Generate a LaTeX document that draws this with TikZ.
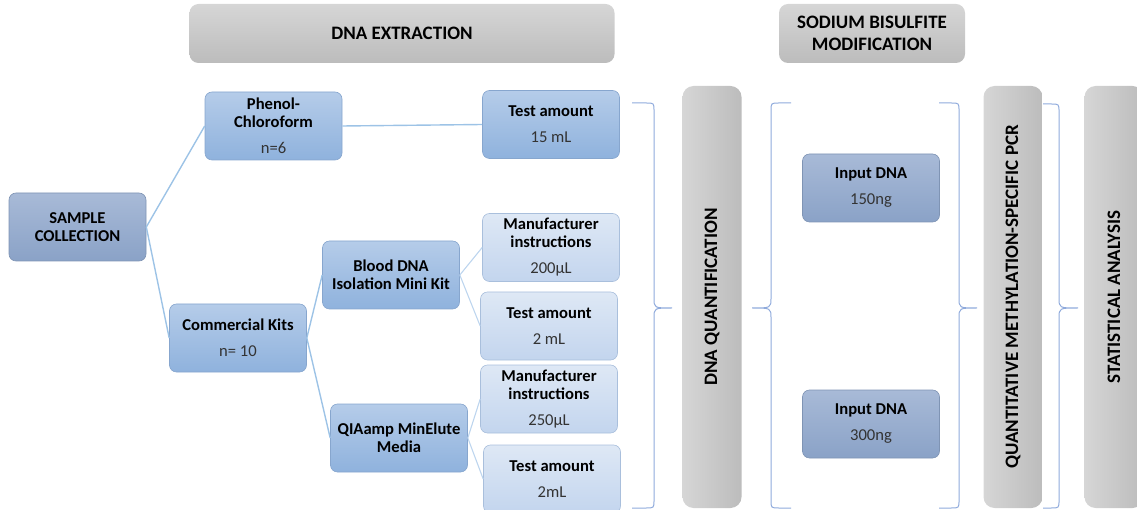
\documentclass[tikz,border=0pt]{standalone}
\usepackage{fontspec}
\setmainfont{Carlito}
\usetikzlibrary{positioning}
\usetikzlibrary{shapes}
\definecolor{darkTop}{HTML}{A8BAD7}
\definecolor{darkBottom}{HTML}{8AA2C7}
\definecolor{darkEdge}{HTML}{7F94B4}
\definecolor{midTop}{HTML}{B5CCE9}
\definecolor{midBottom}{HTML}{8FB2DD}
\definecolor{midEdge}{HTML}{87A6CE}
\definecolor{lightTop}{HTML}{DEE8F5}
\definecolor{lightBottom}{HTML}{C3D5EE}
\definecolor{lightEdge}{HTML}{A9BFDC}
\definecolor{greyLight}{HTML}{D6D6D6}
\definecolor{greyDark}{HTML}{BCBCBC}
\definecolor{linkBlue}{HTML}{9DC3E6}
\definecolor{linkPale}{HTML}{BDD5EE}
\definecolor{braceBlue}{HTML}{8FAADC}
\definecolor{valueText}{HTML}{333333}
\tikzset{
        boxnode/.style={align=center, inner sep=0pt, rounded corners=7pt, minimum width=137pt, minimum height=68pt,
            font=\fontsize{16.6}{18}\selectfont\bfseries, text=black, line width=0.6pt},
        % Dark blue boxes
        node_dark/.style={boxnode, draw=darkEdge, top color=darkTop, bottom color=darkBottom},
        % Mid blue boxes
        node_mid/.style={boxnode, draw=midEdge, top color=midTop, bottom color=midBottom},
        % Light blue boxes
        node_light/.style={boxnode, draw=lightEdge, top color=lightTop, bottom color=lightBottom},
        % Grey step headers
        node_head/.style={align=center, inner sep=0pt, rounded corners=9pt, minimum height=59pt,
            font=\fontsize{19}{22}\selectfont\bfseries, top color=greyLight, bottom color=greyDark},
        % Grey vertical steps
        node_bar/.style={inner sep=0pt, rounded corners=11pt, minimum width=59pt, minimum height=422pt,
            left color=greyLight, right color=greyDark},
        bartext/.style={rotate=90, font=\fontsize{19}{22}\selectfont\bfseries},
        % Connectors
        link/.style={draw=linkBlue, line width=1.4pt},
        link_pale/.style={draw=linkPale, line width=1.1pt},
        brace_line/.style={draw=braceBlue, line width=1pt}
}
\newcommand{\val}[1]{{\mdseries\color{valueText}#1}}

\begin{document}
\begin{tikzpicture}[x=1pt, y=-1pt]
    \useasboundingbox (0,0) rectangle (1137,510);

    % step headers
    \node[node_head, minimum width=425pt] (extraction) at (402,33.5) {DNA EXTRACTION};
    \node[node_head, minimum width=186pt] (bisulfite) at (872,33.5) {SODIUM BISULFITE\\MODIFICATION};

    % extraction tree
    \node[node_dark] (sample) at (77.5,227) {SAMPLE\\COLLECTION};
    \node[node_mid] (phenol) at (273.5,126) {Phenol-\\Chloroform\\[8pt]\val{n=6}};
    \node[node_mid] (commercial) at (238,338) {Commercial Kits\\[8pt]\val{n= 10}};
    \node[node_mid] (blood) at (391,275) {Blood DNA\\Isolation Mini Kit};
    \node[node_mid] (qiaamp) at (399,438) {QIAamp MinElute\\Media};
    \node[node_mid] (test_pc) at (551,124.5) {Test amount\\[8pt]\val{15 mL}};
    \node[node_light] (manuf_blood) at (551,247.5) {Manufacturer\\instructions\\[8pt]\val{200µL}};
    \node[node_light] (test_blood) at (549,326) {Test amount\\[8pt]\val{2 mL}};
    \node[node_light] (manuf_qia) at (549,399) {Manufacturer\\instructions\\[8pt]\val{250µL}};
    \node[node_light] (test_qia) at (552,479) {Test amount\\[8pt]\val{2mL}};

    \draw[link] (sample.east) -- (phenol.west);
    \draw[link] (sample.east) -- (commercial.west);
    \draw[link] (phenol.east) -- (test_pc.west);
    \draw[link] (commercial.east) -- (blood.west);
    \draw[link] (commercial.east) -- (qiaamp.west);
    \draw[link_pale] (blood.east) -- (manuf_blood.west);
    \draw[link_pale] (blood.east) -- (test_blood.west);
    \draw[link_pale] (qiaamp.east) -- (manuf_qia.west);
    \draw[link_pale] (qiaamp.east) -- (test_qia.west);

    % vertical steps
    \node[node_bar] (quant) at (712,297) {};
    \node[bartext] at (quant.center) {DNA QUANTIFICATION};
    \node[node_bar] (qmsp) at (1013,297) {};
    \node[bartext] at (qmsp.center) {QUANTITATIVE METHYLATION-SPECIFIC PCR};
    \node[node_bar] (stats) at (1114,297) {};
    \node[bartext] at (stats.center) {STATISTICAL ANALYSIS};

    % bisulfite inputs
    \node[node_dark] (input_low) at (871,188) {Input DNA\\[8pt]\val{150ng}};
    \node[node_dark] (input_high) at (871,424) {Input DNA\\[8pt]\val{300ng}};

    % braces
    \draw[brace_line] (632,103) -- (646,103) .. controls (654,103) .. (654,111) -- (654,298)
        .. controls (654,308) .. (672,308) .. controls (654,308) .. (654,318) -- (654,500)
        .. controls (654,508) .. (646,508) -- (632,508);
    \draw[brace_line] (791,103) -- (779,103) .. controls (771,103) .. (771,111) -- (771,298)
        .. controls (771,308) .. (752,308) .. controls (771,308) .. (771,318) -- (771,500)
        .. controls (771,508) .. (779,508) -- (791,508);
    \draw[brace_line] (939,103) -- (951,103) .. controls (959,103) .. (959,111) -- (959,298)
        .. controls (959,308) .. (977,308) .. controls (959,308) .. (959,318) -- (959,500)
        .. controls (959,508) .. (951,508) -- (939,508);
    \draw[brace_line] (1043,104) -- (1051,104) .. controls (1059,104) .. (1059,112) -- (1059,298)
        .. controls (1059,308) .. (1078,308) .. controls (1059,308) .. (1059,318) -- (1059,500)
        .. controls (1059,508) .. (1051,508) -- (1043,508);
\end{tikzpicture}
\end{document}
